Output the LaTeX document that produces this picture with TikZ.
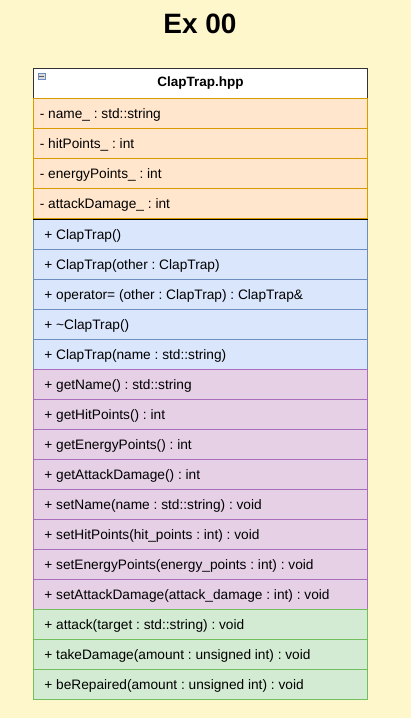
\documentclass[tikz,border=0pt]{standalone}
\usepackage{fontspec}
\setmainfont{Liberation Sans}
\usetikzlibrary{positioning}
\frenchspacing

\definecolor{bgyellow}{HTML}{FFF7CC}
\definecolor{attrfill}{HTML}{FFE6CC}
\definecolor{attrdraw}{HTML}{D99C00}
\definecolor{ctorfill}{HTML}{DAE6FC}
\definecolor{ctordraw}{HTML}{6C8EBF}
\definecolor{getfill}{HTML}{E5D0E6}
\definecolor{getdraw}{HTML}{A86DBD}
\definecolor{actfill}{HTML}{D3EBD3}
\definecolor{actdraw}{HTML}{72BF5F}

\tikzset{
  rowbox/.style={draw, line width=1.2pt, minimum width=334pt, minimum height=30pt,
    inner sep=0, anchor=north west},
  rowtext/.style={anchor=west, inner sep=0, text height=9.8pt, text depth=0pt,
    font=\fontsize{13.7}{16}\selectfont},
}

\begin{document}
\begin{tikzpicture}[x=1pt, y=-1pt]
  % Background
  \fill[bgyellow] (0,0) rectangle (411,718);
  \useasboundingbox (0,0) rectangle (411,718);

  % Title
  \node[font=\bfseries\fontsize{28}{32}\selectfont] (title) at (200,24) {Ex 00};

  % Class header
  \node[rowbox, draw=black!80, line width=1pt, fill=white,
    font=\bfseries\fontsize{13.5}{16}\selectfont] (head) at (33,68) {ClapTrap.hpp};
  \node[draw=ctordraw, fill=black!15, line width=0.7pt, minimum size=6.5pt,
    inner sep=0, anchor=north west] (fold) at (38,72.5) {};
  \draw[black!65, line width=0.9pt] ([xshift=1.4pt]fold.west) -- ([xshift=-1.4pt]fold.east);

  % Attributes
  \foreach \txt [count=\i from 0] in {{- name\_ : std::string}, {- hitPoints\_ : int},
      {- energyPoints\_ : int}, {- attackDamage\_ : int}} {
    \node[rowbox, draw=attrdraw, fill=attrfill] (attr\i) at (33,{98+30*\i}) {};
    \node[rowtext] (attrtxt\i) at ([xshift=6.6pt]attr\i.west) {\txt};
  }

  % Constructors / destructor
  \foreach \txt [count=\i from 0] in {{+ ClapTrap()}, {+ ClapTrap(other : ClapTrap)},
      {+ operator= (other : ClapTrap) : ClapTrap\&}, {+ \textasciitilde ClapTrap()},
      {+ ClapTrap(name : std::string)}} {
    \node[rowbox, draw=ctordraw, fill=ctorfill] (ctor\i) at (33,{219+30*\i}) {};
    \node[rowtext] (ctortxt\i) at ([xshift=11.2pt]ctor\i.west) {\txt};
  }

  % Getters and setters
  \foreach \txt [count=\i from 0] in {{+ getName() : std::string}, {+ getHitPoints() : int},
      {+ getEnergyPoints() : int}, {+ getAttackDamage() : int},
      {+ setName(name : std::string) : void}, {+ setHitPoints(hit\_points : int) : void},
      {+ setEnergyPoints(energy\_points : int) : void},
      {+ setAttackDamage(attack\_damage : int) : void}} {
    \node[rowbox, draw=getdraw, fill=getfill] (acc\i) at (33,{369+30*\i}) {};
    \node[rowtext] (acctxt\i) at ([xshift=11.2pt]acc\i.west) {\txt};
  }

  % Actions
  \foreach \txt [count=\i from 0] in {{+ attack(target : std::string) : void},
      {+ takeDamage(amount : unsigned int) : void},
      {+ beRepaired(amount : unsigned int) : void}} {
    \node[rowbox, draw=actdraw, fill=actfill] (act\i) at (33,{609+30*\i}) {};
    \node[rowtext] (acttxt\i) at ([xshift=11.2pt]act\i.west) {\txt};
  }

  % Separator between attributes and methods
  \draw[black, line width=1.3pt] (attr3.south west) -- (attr3.south east);
\end{tikzpicture}
\end{document}
